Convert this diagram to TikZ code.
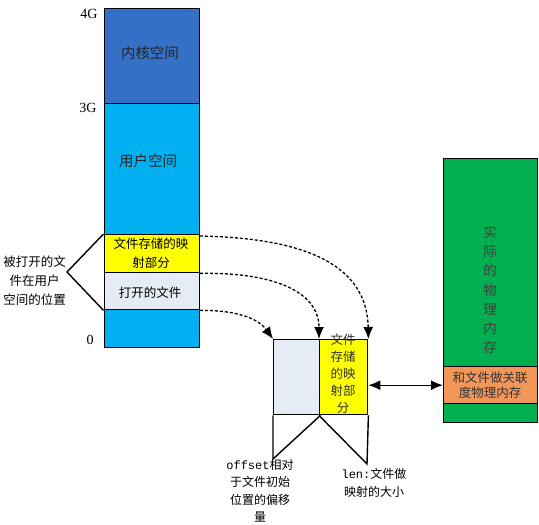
\documentclass[tikz,border=0pt]{standalone}
\usepackage{fontspec}
\setmainfont{Liberation Serif}
\setmonofont{Liberation Mono}
\newfontfamily\cjk{Noto Sans CJK SC}
\usetikzlibrary{arrows.meta}
\definecolor{kernblue}{HTML}{3470C6}
\definecolor{userblue}{HTML}{00B0F0}
\definecolor{fileyel}{HTML}{FFFF00}
\definecolor{filegray}{HTML}{E6ECF5}
\definecolor{memgreen}{HTML}{00B050}
\definecolor{memorange}{HTML}{F2975A}
\tikzset{
  blk/.style={draw=black, line width=1.4pt, inner sep=0pt, anchor=north west},
  lbl/.style={font=\cjk\fontsize{12.5}{19}\selectfont, align=center, inner sep=0pt},
  biglbl/.style={font=\cjk\fontsize{14.5}{18}\selectfont, inner sep=0pt, text=black!85},
  axis/.style={font=\fontsize{14}{15}\selectfont, inner sep=0pt},
  dlink/.style={line width=1.3pt, dash pattern=on 3pt off 2pt, -{Latex[length=12pt,width=10pt]}},
  plain/.style={line width=1.4pt},
}
\begin{document}
\begin{tikzpicture}[x=1pt,y=-1pt]
\useasboundingbox (0,0) rectangle (539,525);
% left column
\node[blk, fill=userblue, minimum width=95pt, minimum height=245pt] (user) at (103.5,102) {};
\node[blk, fill=kernblue, minimum width=95pt, minimum height=95pt] (kern) at (103.5,7.5) {};
\node[blk, fill=fileyel, minimum width=95pt, minimum height=38pt] (yel) at (103.5,234) {};
\node[blk, fill=filegray, minimum width=95pt, minimum height=37pt] (opf) at (103.5,272) {};
\node[biglbl] (tk) at (150,53) {内核空间};
\node[biglbl] (tu) at (148,161) {用户空间};
\node[lbl] (ty) at (151,253) {文件存储的映\\射部分};
\node[lbl] (to) at (150,293) {打开的文件};
\node[axis] (a4) at (89,14) {4G};
\node[axis] (a3) at (88,108) {3G};
\node[axis] (a0) at (90,340) {0};
% bracket left
\coordinate (apex) at (67,272);
\draw[plain] (yel.north west) -- (apex) -- (opf.south west);
\node[lbl, anchor=east] (tpos) at (66,281) {被打开的文\\件在用户\\空间的位置};
% middle box
\node[blk, fill=filegray, minimum width=46pt, minimum height=75pt] (mgray) at (273,339) {};
\node[blk, fill=fileyel, minimum width=48pt, minimum height=75pt] (myel) at (319,339) {};
\node[font=\cjk\fontsize{12.5}{17}\selectfont, align=center, inner sep=0pt, text=black!80] (tmy) at (343,374) {文件\\存储\\的映\\射部\\分};
% triangles below middle box
\coordinate (lb) at (273,459);
\coordinate (rb) at (367,464);
\draw[plain] (mgray.south west) -- (lb) -- (mgray.south east);
\draw[plain] (myel.south east) -- (rb) -- (myel.south west);
\node[font=\fontsize{12}{17.5}\selectfont, align=center, inner sep=0pt, anchor=north] (toff) at (260,459) {\texttt{offset}{\cjk 相对}\\{\cjk 于文件初始}\\{\cjk 位置的偏移}\\{\cjk 量}};
\node[font=\fontsize{12}{18}\selectfont, align=center, inner sep=0pt, anchor=north] (tlen) at (374,468) {\texttt{len:}{\cjk 文件做}\\{\cjk 映射的大小}};
% right memory
\node[blk, fill=memgreen, minimum width=94pt, minimum height=264pt] (mem) at (443,158) {};
\node[blk, fill=memorange, minimum width=94pt, minimum height=37pt] (orng) at (443,366) {};
\node[font=\cjk\fontsize{13.5}{19.2}\selectfont, align=center, inner sep=0pt, text=black!75] (tmem) at (490,290) {实\\际\\的\\物\\理\\内\\存};
\node[lbl, font=\cjk\fontsize{12.5}{15.5}\selectfont, text=black!80] (tor) at (490,385) {和文件做关联\\度物理内存};
% links
\draw[dlink] (yel.north east) ++(0,2) .. controls (300,238) and (367,262) .. (myel.north east);
\draw[dlink] (yel.south east) .. controls (270,272) and (319,290) .. (myel.north west);
\draw[dlink] (opf.south east) .. controls (235,310) and (258,318) .. (mgray.north west);
\draw[plain, {Latex[length=12pt,width=10pt]}-{Latex[length=12pt,width=10pt]}] (myel.east |- orng.west) -- (orng.west);
\end{tikzpicture}
\end{document}
